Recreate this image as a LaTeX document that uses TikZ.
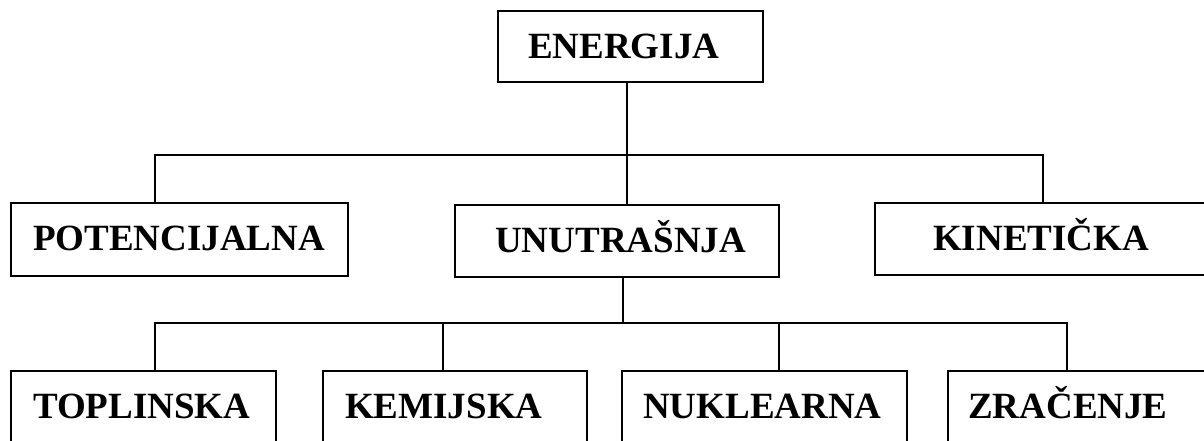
\documentclass[tikz,border=0pt]{standalone}
\usepackage{fontspec}
\setmainfont{Liberation Serif}
\begin{document}
\begin{tikzpicture}[x=1pt,y=-1pt,
  box/.style={draw, line width=1.3pt, rectangle, inner sep=0pt, outer sep=0pt},
  lbl/.style={anchor=base west, inner sep=0pt, font=\fontsize{37}{40}\selectfont\bfseries},
  conn/.style={line width=1.3pt}]
\useasboundingbox (0,0) rectangle (1204,440);
\clip (0,0) rectangle (1204,440);
% boxes
\node[box, minimum width=265pt, minimum height=71pt] (E) at (630.5,46.5) {};
\node[box, minimum width=337pt, minimum height=73pt] (P) at (179.5,239.5) {};
\node[box, minimum width=324pt, minimum height=72pt] (U) at (617,241) {};
\node[box, minimum width=335pt, minimum height=72pt] (K) at (1042.5,239) {};
\node[box, minimum width=265pt, minimum height=74pt] (T) at (143.5,408) {};
\node[box, minimum width=264pt, minimum height=74pt] (Ke) at (455,408) {};
\node[box, minimum width=285pt, minimum height=74pt] (N) at (764.5,408) {};
\node[box, minimum width=262pt, minimum height=74pt] (Z) at (1079,408) {};
% labels
\node[lbl] (tE) at (528,58) {ENERGIJA};
\node[lbl] (tP) at (33,250) {POTENCIJALNA};
\node[lbl] (tU) at (495,252) {UNUTRAŠNJA};
\node[lbl] (tK) at (933,250) {KINETIČKA};
\node[lbl] (tT) at (33,418) {TOPLINSKA};
\node[lbl] (tKe) at (345,418) {KEMIJSKA};
\node[lbl] (tN) at (643,418) {NUKLEARNA};
\node[lbl] (tZ) at (968,418) {ZRAČENJE};
% junctions
\coordinate (c1) at (627,155);
\coordinate (h1L) at (155,155);
\coordinate (h1R) at (1043,155);
\coordinate (c2) at (623,323);
\coordinate (b1) at (155,323);
\coordinate (b2) at (443,323);
\coordinate (b3) at (779,323);
\coordinate (b4) at (1067,323);
% connectors
\draw[conn] (E.south -| c1) -- (c1) -- (U.north -| c1);
\draw[conn] (P.north -| h1L) -- (h1L) -- (h1R) -- (K.north -| h1R);
\draw[conn] (U.south -| c2) -- (c2);
\draw[conn] (T.north -| b1) -- (b1) -- (b4) -- (Z.north -| b4);
\draw[conn] (Ke.north -| b2) -- (b2);
\draw[conn] (N.north -| b3) -- (b3);
\end{tikzpicture}
\end{document}
